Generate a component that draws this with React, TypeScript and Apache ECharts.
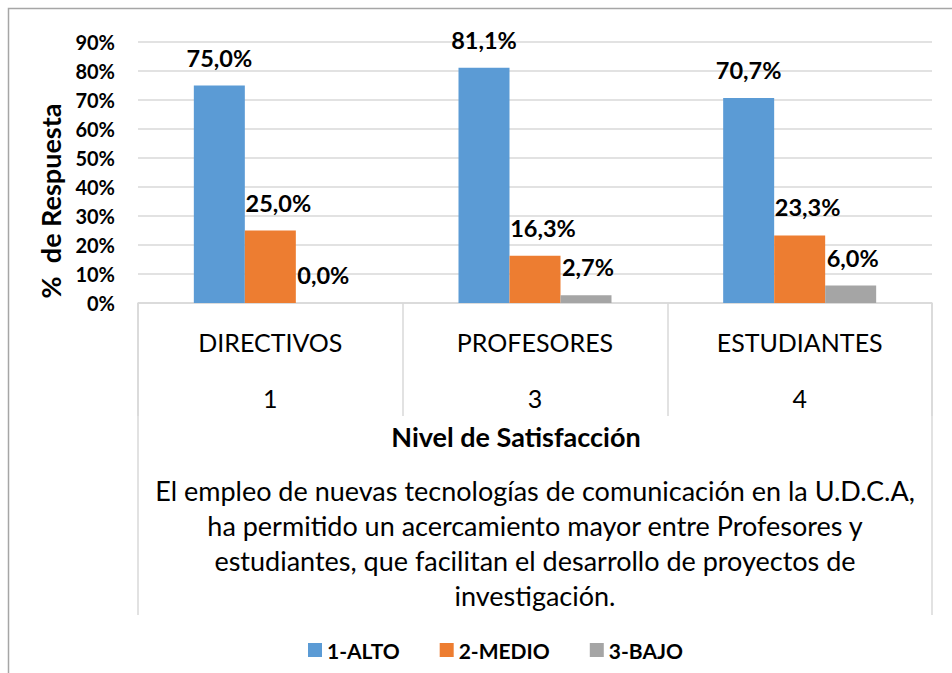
import React, { useEffect, useRef } from "react";
import * as echarts from "echarts";

const categories = ["DIRECTIVOS", "PROFESORES", "ESTUDIANTES"];
const categoryCodes = ["1", "3", "4"];
const seriesNames = ["1-ALTO", "2-MEDIO", "3-BAJO"];
const alto = [75.0, 81.1, 70.7];
const medio = [25.0, 16.3, 23.3];
const bajo = [0.0, 2.7, 6.0];
const yMin = 0;
const yMax = 90;
const yInterval = 10;
const yAxisTitle = "%  de Respuesta";
const xAxisTitle = "Nivel de Satisfacción";
const noteLines = [
  "El empleo de nuevas tecnologías de comunicación en la U.D.C.A,",
  "ha permitido un acercamiento mayor entre Profesores y",
  "estudiantes, que facilitan el desarrollo de proyectos de",
  "investigación.",
];
const colors = ["#5b9bd5", "#ed7d31", "#a5a5a5"];

const FONT = "Lato, 'Noto Sans', sans-serif";

export default function App() {
  const ref = useRef<HTMLDivElement>(null);
  useEffect(() => {
    if (!ref.current) return;
    const chart = echarts.init(ref.current, null, { renderer: "svg" });
    const fmt = (v: number) => v.toFixed(1).replace(".", ",") + "%";
    const seriesData = [alto, medio, bajo];
    const labelOffsets = [[0, 0], [8, 0], [2, 0]];
    chart.setOption({
      animation: false,
      backgroundColor: "#ffffff",
      textStyle: { fontFamily: FONT },
      grid: { left: 138, right: 20, top: 42, bottom: 370, containLabel: false },
      legend: {
        data: seriesNames,
        left: 308,
        top: 639,
        padding: 0,
        itemWidth: 14,
        itemHeight: 14,
        itemGap: 40,
        icon: "rect",
        textStyle: { fontFamily: FONT, fontWeight: "bold", fontSize: 21, color: "#000", lineHeight: 22 },
      },
      xAxis: {
        type: "category",
        data: categories,
        axisLine: { show: true, lineStyle: { color: "#d9d9d9", width: 1.5 } },
        axisTick: { show: true, interval: 0, length: 113, lineStyle: { color: "#d9d9d9", width: 1.5 } },
        axisLabel: {
          interval: 0,
          margin: 11,
          formatter: (v: string, i: number) => `{a|${v}}\n{b|${categoryCodes[i]}}`,
          rich: {
            a: { fontFamily: FONT, fontSize: 25, lineHeight: 56, color: "#000" },
            b: { fontFamily: FONT, fontSize: 25, lineHeight: 56, color: "#000" },
          },
        },
      },
      yAxis: {
        type: "value",
        min: yMin,
        max: yMax,
        interval: yInterval,
        axisLine: { show: false },
        axisTick: { show: false },
        splitLine: { show: true, lineStyle: { color: "#d9d9d9", width: 1.5 } },
        axisLabel: {
          margin: 23,
          formatter: (v: number) => `${v}%`,
          fontFamily: FONT,
          fontWeight: "bold",
          fontSize: 20,
          color: "#000",
        },
      },
      series: seriesNames.map((name, si) => ({
        name,
        type: "bar",
        data: seriesData[si],
        barWidth: 51,
        barGap: "0%",
        itemStyle: { color: colors[si] },
        label: {
          show: true,
          position: "top",
          distance: 16,
          offset: labelOffsets[si],
          formatter: (p: any) => fmt(p.value),
          fontFamily: FONT,
          fontWeight: "bold",
          fontSize: 23.5,
          color: "#000",
        },
      })),
      graphic: [
        {
          type: "rect",
          silent: true,
          shape: { x: 8.5, y: 8.5, width: 980, height: 700 },
          style: { fill: "none", stroke: "#a6a6a6", lineWidth: 1.5 },
          z: -1,
        },
        {
          type: "line",
          silent: true,
          shape: { x1: 138, y1: 303, x2: 138, y2: 615 },
          style: { stroke: "#d9d9d9", lineWidth: 1.5 },
        },
        {
          type: "line",
          silent: true,
          shape: { x1: 932, y1: 303, x2: 932, y2: 615 },
          style: { stroke: "#d9d9d9", lineWidth: 1.5 },
        },
        {
          type: "text",
          x: 50,
          y: 201,
          rotation: Math.PI / 2,
          style: {
            text: yAxisTitle,
            fontFamily: FONT,
            fontWeight: "bold",
            fontSize: 27,
            fill: "#000",
            align: "center",
            verticalAlign: "middle",
          },
        },
        {
          type: "text",
          x: 516,
          y: 436,
          style: {
            text: xAxisTitle,
            fontFamily: FONT,
            fontWeight: "bold",
            fontSize: 27,
            fill: "#000",
            align: "center",
            verticalAlign: "middle",
          },
        },
        {
          type: "text",
          x: 535,
          y: 473,
          style: {
            text: noteLines.join("\n"),
            fontFamily: FONT,
            fontSize: 27,
            lineHeight: 35,
            fill: "#000",
            align: "center",
            verticalAlign: "top",
          },
        },
      ],
    });
    return () => chart.dispose();
  }, []);
  return (
    <div
      ref={ref}
      style={{ position: "fixed", left: 0, top: 0, width: 952, height: 673 }}
    />
  );
}
